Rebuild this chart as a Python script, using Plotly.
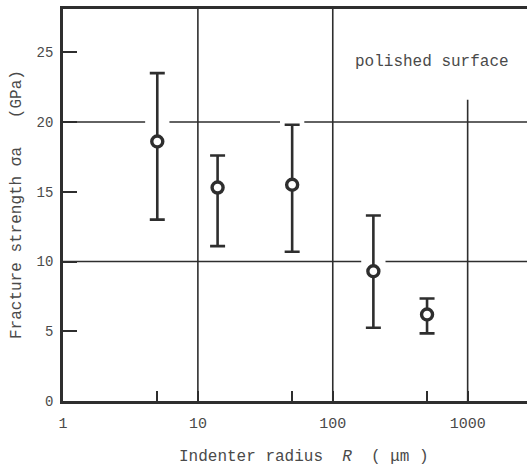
import numpy as np
import plotly.graph_objects as go

# ---- data ----
radius_um = [5, 14, 50, 200, 500]
strength_gpa = [18.6, 15.3, 15.5, 9.3, 6.2]
err_upper = [23.5, 17.6, 19.8, 13.3, 7.35]
err_lower = [13.0, 11.1, 10.7, 5.25, 4.85]

y_tick_vals = [0, 5, 10, 15, 20, 25]
x_tick_vals = [1, 5, 10, 50, 100, 500, 1000]
x_tick_text = ["1", "", "10", "", "100", "", "1000"]

h_grid = [10, 20]
v_grid = [10, 100, 1000]

INK = "#2e2e2e"
TXT = "#4a4a4a"
FONT = "Liberation Mono, Courier New, monospace"

X_RANGE = [0, 3.44]
Y_RANGE = [0, 28.1]

fig = go.Figure()

# grid lines (drawn as shapes, broken where an error bar crosses them)
shapes = []
gap = 0.09  # half gap in decades
for g in h_grid:
    cuts = []
    for xv, lo, hi in zip(radius_um, err_lower, err_upper):
        if lo - 0.5 <= g <= hi + 0.5:
            lx = np.log10(xv)
            cuts.append((lx - gap, lx + gap))
    cuts.sort()
    start = X_RANGE[0]
    segs = []
    for a, b in cuts:
        segs.append((start, a))
        start = b
    segs.append((start, X_RANGE[1]))
    for a, b in segs:
        shapes.append(dict(type="line", xref="x", yref="y",
                           x0=10 ** a, x1=10 ** b, y0=g, y1=g,
                           line=dict(color=INK, width=1.6)))
for v in v_grid:
    top = 21.6 if v == 1000 else Y_RANGE[1]
    shapes.append(dict(type="line", xref="x", yref="y",
                       x0=v, x1=v, y0=0, y1=top,
                       line=dict(color=INK, width=1.6)))

fig.add_trace(go.Scatter(
    x=radius_um, y=strength_gpa, mode="markers",
    marker=dict(symbol="circle", size=11, color="white",
                line=dict(color=INK, width=3.4)),
    error_y=dict(type="data", symmetric=False,
                 array=[u - s for u, s in zip(err_upper, strength_gpa)],
                 arrayminus=[s - l for s, l in zip(strength_gpa, err_lower)],
                 color=INK, thickness=2.6, width=7.5),
    showlegend=False, cliponaxis=False,
))

fig.update_layout(
    width=527, height=468,
    margin=dict(l=63, r=0, t=9, b=67),
    paper_bgcolor="white", plot_bgcolor="white",
    font=dict(family=FONT, color=TXT, size=14),
    shapes=shapes,
    xaxis=dict(type="log", range=X_RANGE, tickvals=x_tick_vals, ticktext=x_tick_text,
               ticks="inside", ticklen=10, tickwidth=1.5, tickcolor=INK,
               showgrid=False, zeroline=False,
               showline=True, linecolor=INK, linewidth=2.6, mirror=True,
               tickfont=dict(size=15, family=FONT, color=TXT),
               ticklabelstandoff=6),
    yaxis=dict(range=Y_RANGE, tickvals=y_tick_vals,
               ticks="inside", ticklen=14, tickwidth=2, tickcolor=INK,
               showgrid=False, zeroline=False,
               showline=True, linecolor=INK, linewidth=2.6,
               tickfont=dict(size=14, family=FONT, color=TXT),
               ticklabelstandoff=4),
    annotations=[
        dict(text="Indenter radius  <i>R</i>  ( μm )", xref="paper", yref="paper",
             x=(304 - 63) / (527 - 63), y=-(457 - 401) / (401 - 9), xanchor="center", yanchor="middle",
             showarrow=False, font=dict(size=16, family=FONT, color=TXT)),
        dict(text="Fracture strength σa   (GPa)", xref="paper", yref="paper",
             x=-(63 - 17) / (527 - 63), y=(401 - 205) / (401 - 9), xanchor="center", yanchor="middle",
             textangle=-90, showarrow=False, font=dict(size=16, family=FONT, color=TXT)),
        dict(text="polished surface", xref="paper", yref="paper",
             x=(432 - 63) / (527 - 63), y=(401 - 62) / (401 - 9), xanchor="center", yanchor="middle",
             showarrow=False, font=dict(size=16, family=FONT, color=TXT)),
    ],
)

fig.write_html("out.html", config={"displayModeBar": False},
               post_script="document.body.style.margin='0';document.body.style.padding='0';")
